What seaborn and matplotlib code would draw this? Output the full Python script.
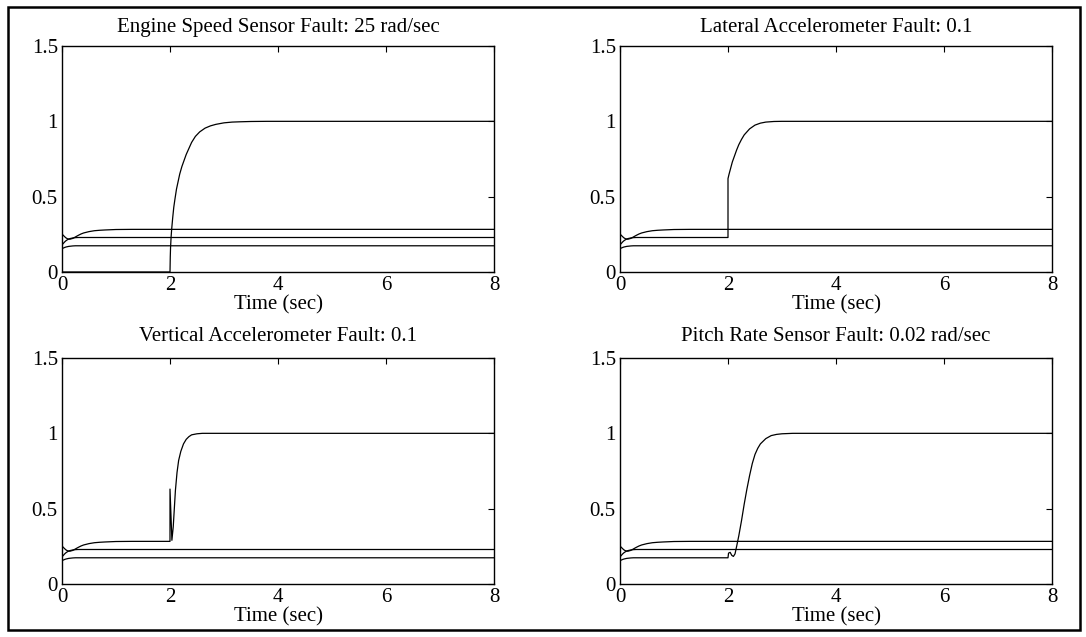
import matplotlib
matplotlib.use("Agg")
import matplotlib.pyplot as plt
import seaborn as sns
import pandas as pd

# ---------------- data ----------------
titles = ["Engine Speed Sensor Fault: 25 rad/sec",
          "Lateral Accelerometer Fault: 0.1",
          "Vertical Accelerometer Fault: 0.1",
          "Pitch Rate Sensor Fault: 0.02 rad/sec"]
x_ticks = [0, 2, 4, 6, 8]
y_ticks = [0, 0.5, 1, 1.5]
y_tick_labels = ["0", "0.5", "1", "1.5"]

# initial transient of the three healthy residuals (t = 0 .. 2 s)
t_init = [0.0, 0.025, 0.05, 0.075, 0.1, 0.125, 0.15, 0.2, 0.25, 0.3, 0.35, 0.4,
          0.5, 0.6, 0.7, 0.8, 1.0, 1.3, 2.0]
top_init = [0.252, 0.243, 0.234, 0.226, 0.221, 0.218, 0.218, 0.223, 0.233, 0.243, 0.252, 0.259,
            0.268, 0.274, 0.277, 0.279, 0.282, 0.283, 0.283]
mid_init = [0.180, 0.190, 0.200, 0.208, 0.214, 0.219, 0.222, 0.226, 0.228, 0.229, 0.229, 0.229,
            0.229, 0.229, 0.229, 0.229, 0.229, 0.229, 0.229]
bot_init = [0.155, 0.159, 0.163, 0.166, 0.168, 0.170, 0.171, 0.173, 0.174, 0.174, 0.174, 0.174,
            0.174, 0.174, 0.174, 0.174, 0.174, 0.174, 0.174]

# steady values after t = 2 s for healthy residuals
t_end = [8.0]
top_end = [0.283]
mid_end = [0.229]
bot_end = [0.174]

# engine speed residual (zero until fault)
eng_t = [0.0, 2.0, 2.005, 2.01, 2.02, 2.03, 2.05, 2.07, 2.09, 2.12, 2.15, 2.18, 2.22, 2.26,
         2.3, 2.35, 2.4, 2.47, 2.55, 2.65, 2.75, 2.85, 3.0, 3.15, 3.3, 3.5, 3.8, 4.2, 8.0]
eng_y = [0.0, 0.0, 0.10, 0.16, 0.23, 0.28, 0.36, 0.43, 0.48, 0.55, 0.60, 0.65, 0.70, 0.74,
         0.78, 0.82, 0.86, 0.90, 0.93, 0.955, 0.97, 0.98, 0.99, 0.995, 0.997, 0.999, 1.0, 1.0, 1.0]

# lateral accelerometer residual after fault (middle residual)
lat_t = [2.0, 2.02, 2.05, 2.08, 2.12, 2.16, 2.2, 2.25, 2.3, 2.35, 2.4, 2.5, 2.6, 2.7, 2.85, 3.0, 8.0]
lat_y = [0.62, 0.65, 0.69, 0.73, 0.77, 0.81, 0.845, 0.88, 0.91, 0.93, 0.95, 0.975, 0.988, 0.995,
         0.999, 1.0, 1.0]

# vertical accelerometer residual after fault (top residual)
ver_t = [2.0, 2.035, 2.06, 2.08, 2.1, 2.13, 2.16, 2.2, 2.25, 2.3, 2.35, 2.4, 2.5, 2.6, 8.0]
ver_y = [0.63, 0.29, 0.38, 0.50, 0.62, 0.74, 0.82, 0.88, 0.93, 0.96, 0.978, 0.99, 0.997, 1.0, 1.0]

# pitch rate residual after fault (bottom residual)
pit_t = [2.01, 2.04, 2.07, 2.1, 2.13, 2.16, 2.2, 2.25, 2.3, 2.35, 2.4, 2.45, 2.5, 2.55,
         2.6, 2.7, 2.8, 2.9, 3.0, 3.2, 8.0]
pit_y = [0.205, 0.21, 0.19, 0.183, 0.20, 0.25, 0.32, 0.42, 0.53, 0.63, 0.72, 0.80, 0.86, 0.90,
         0.93, 0.965, 0.985, 0.993, 0.997, 1.0, 1.0]

# ---------------- build curves ----------------
def healthy(init, end):
    return t_init + t_end, init + end

def faulty(init, ft, fy):
    return t_init + ft, init + fy

panels = [
    [healthy(top_init, top_end), healthy(mid_init, mid_end), healthy(bot_init, bot_end), (eng_t, eng_y)],
    [healthy(top_init, top_end), faulty(mid_init, lat_t, lat_y), healthy(bot_init, bot_end)],
    [faulty(top_init, ver_t, ver_y), healthy(mid_init, mid_end), healthy(bot_init, bot_end)],
    [healthy(top_init, top_end), healthy(mid_init, mid_end), faulty(bot_init, pit_t, pit_y)],
]

# ---------------- plot ----------------
sns.set_theme(style="white")
plt.rcParams["font.family"] = ["Liberation Serif", "DejaVu Serif"]

fig = plt.figure(figsize=(10.86, 6.37), dpi=100)
W, H = 1086, 637
lefts = [62, 620]
bottoms_px = [272, 584]
aw, ah = 432, 226
positions = [(lefts[0], bottoms_px[0]), (lefts[1], bottoms_px[0]),
             (lefts[0], bottoms_px[1]), (lefts[1], bottoms_px[1])]
pads = [10, 10, 12, 12]

fs = 15
for i, (lx, by) in enumerate(positions):
    ax = fig.add_axes([lx / W, (H - by) / H, aw / W, ah / H])
    for (tt, yy) in panels[i]:
        df = pd.DataFrame({"t": tt, "r": yy})
        sns.lineplot(data=df, x="t", y="r", ax=ax, color="black", lw=0.9,
                     estimator=None, sort=False)
    ax.set_xlim(0, 8)
    ax.set_ylim(0, 1.5)
    ax.set_xticks(x_ticks)
    ax.set_xticklabels([str(v) for v in x_ticks])
    ax.set_yticks(y_ticks)
    ax.set_yticklabels(y_tick_labels)
    ax.tick_params(direction="in", length=4, width=0.8, top=True, right=True,
                   labelsize=fs, pad=3, colors="black")
    for s in ax.spines.values():
        s.set_color("black")
        s.set_linewidth(1.0)
    ax.set_title(titles[i], fontsize=fs, pad=pads[i], color="black")
    ax.set_xlabel("Time (sec)", fontsize=fs, labelpad=0, color="black")
    ax.set_ylabel("")

fig.add_artist(plt.Rectangle((8 / W, 1 - 630 / H), (1080 - 8) / W, (630 - 7) / H,
                             transform=fig.transFigure, fill=False, lw=1.8,
                             edgecolor="black"))

fig.savefig("out.png", dpi=100)
